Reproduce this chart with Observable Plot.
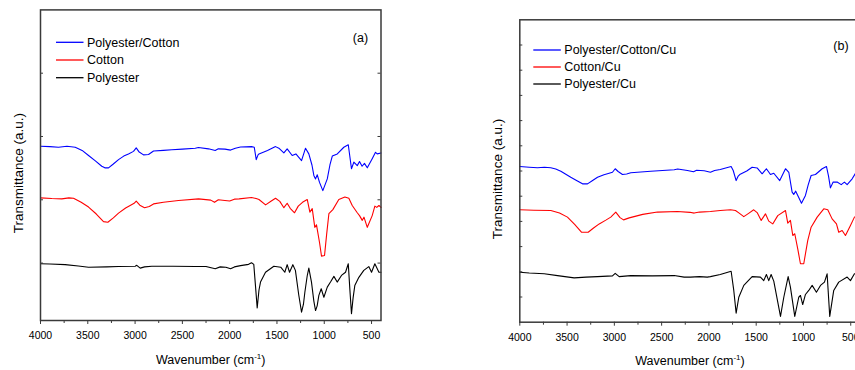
<!DOCTYPE html>
<html><head><meta charset="utf-8">
<script src="https://cdn.jsdelivr.net/npm/d3@7"></script>
<script src="https://cdn.jsdelivr.net/npm/@observablehq/plot@0.6"></script>
<style>
html,body{margin:0;padding:0;overflow:hidden;background:#fff;width:855px;height:370px;}
#wrap{position:relative;width:855px;height:370px;overflow:hidden;}
#wrap svg{position:absolute;top:0;}
</style></head>
<body><div id="wrap"></div>
<script>
// ---------- data (wavenumber cm-1, transmittance a.u.) ----------
const xTicksMajor = [4000, 3500, 3000, 2500, 2000, 1500, 1000, 500];
const xTicksMinor = [3750, 3250, 2750, 2250, 1750, 1250, 750];
const yTicksA = [20, 40, 60, 80];
const yTicksB = [1,2,3,4,5,6,7,8,9,10,11];

const seriesNamesA = ["Polyester/Cotton", "Cotton", "Polyester"];
const seriesNamesB = ["Polyester/Cotton/Cu", "Cotton/Cu", "Polyester/Cu"];
const seriesColors = ["#0000ff", "#ff0000", "#000000"];
const panelTags = ["(a)", "(b)"];
const xLabel = "Wavenumber (cm-1)";
const yLabel = "Transmittance (a.u.)";

const polyCottonA = [[4000,56.9],[3900,56.8],[3810,56.6],[3720,56.9],[3633,56.6],[3560,55.6],[3492,54.0],[3420,52.3],[3352,50.6],[3320,50.1],[3281,50.1],[3230,51.3],[3175,52.7],[3120,53.8],[3070,54.5],[3017,55.3],[2988,56.4],[2960,55.2],[2911,54.2],[2858,54.3],[2805,55.4],[2700,55.6],[2612,55.8],[2500,56.0],[2364,56.3],[2330,56.5],[2224,56.1],[2153,55.6],[2120,56.1],[2050,56.0],[1990,55.7],[1940,56.3],[1885,56.7],[1769,56.8],[1740,56.6],[1719,52.7],[1700,54.2],[1690,54.5],[1600,55.6],[1515,56.8],[1480,56.3],[1427,54.8],[1392,56.1],[1339,54.0],[1300,54.5],[1240,52.4],[1198,56.3],[1163,54.5],[1130,51],[1110,47.7],[1092,46.6],[1074,47.9],[1050,45.5],[1015,42.9],[968,46.6],[940,51],[915,53.8],[862,54.5],[793,56.6],[746,57.4],[712,49.8],[687,51.9],[651,50.8],[627,52.1],[600,50.6],[575,51.5],[545,50.1],[493,53.0],[458,55.0],[440,54.5],[400,54.8]];
const cottonA = [[4000,40.6],[3880,40.4],[3775,40.3],[3700,40.6],[3651,40.5],[3570,39.2],[3492,37.7],[3410,35.5],[3334,33.1],[3288,32.9],[3230,34.3],[3175,35.8],[3100,37.4],[3052,38.2],[3010,38.9],[2988,39.6],[2950,38.3],[2900,37.5],[2850,37.9],[2805,38.7],[2700,39.2],[2541,39.8],[2329,40.3],[2200,39.9],[2160,39.2],[2120,40.0],[2050,39.8],[2000,39.6],[1950,40.2],[1900,40.3],[1769,40.7],[1720,40.4],[1690,40.1],[1620,38.4],[1560,39.6],[1515,40.5],[1470,39.5],[1427,37.5],[1392,38.9],[1360,37.3],[1314,35.9],[1275,38.0],[1230,39.2],[1180,40.1],[1152,36.1],[1127,37.2],[1100,31.3],[1082,32.1],[1050,26.5],[1029,22.2],[997,22.4],[975,29],[951,35.6],[909,36.9],[846,40.1],[782,40.9],[740,40.5],[704,38.2],[651,35.9],[627,35.0],[598,33.5],[580,34.5],[545,31.3],[493,35.0],[465,38.0],[445,37.6],[422,38.2],[400,37.6]];
const polyesterA = [[4000,19.8],[3900,19.7],[3739,19.5],[3600,19.1],[3492,18.7],[3300,18.8],[3175,18.9],[2999,19.0],[2982,19.3],[2946,18.4],[2900,18.8],[2823,19.0],[2600,19.0],[2364,18.9],[2250,18.9],[2153,18.2],[2100,18.8],[2040,18.7],[1990,18.2],[1950,18.8],[1885,19.2],[1800,19.6],[1769,20.1],[1745,19.6],[1725,12],[1709,5.8],[1690,11.5],[1674,14.0],[1621,17.1],[1533,19.0],[1460,18.7],[1417,17.1],[1392,19.5],[1367,17.1],[1332,19.5],[1305,17.7],[1270,10],[1240,4.5],[1220,7],[1205,10.8],[1180,16],[1163,18.4],[1135,14.0],[1110,8],[1092,5.0],[1075,6.5],[1057,9.8],[1032,11.9],[1004,9.2],[968,12.4],[934,14.0],[898,15.8],[863,14.0],[818,16.1],[775,17.1],[746,19.8],[730,12],[712,4.0],[695,9],[677,12.9],[634,15.5],[582,17.7],[529,18.9],[500,17.1],[465,19.8],[422,17.1],[400,17.1]];

const polyCottonCuB = [[4000,6.18],[3900,6.15],[3813,6.13],[3740,6.15],[3672,6.13],[3620,6.08],[3566,5.99],[3461,5.75],[3400,5.62],[3337,5.49],[3284,5.49],[3230,5.62],[3178,5.75],[3110,5.85],[3055,5.91],[3020,5.95],[2991,6.09],[2960,5.98],[2914,5.86],[2870,5.88],[2826,5.93],[2615,5.99],[2367,6.05],[2330,6.08],[2227,6.02],[2163,5.97],[2130,6.03],[2050,6.01],[1984,5.95],[1940,6.02],[1880,6.06],[1765,6.18],[1743,6.02],[1712,5.62],[1690,5.80],[1674,5.86],[1600,6.0],[1543,6.15],[1490,6.12],[1437,5.89],[1392,6.09],[1349,5.86],[1314,5.91],[1251,5.62],[1190,6.09],[1155,5.95],[1120,5.16],[1103,5.07],[1082,5.20],[1050,4.95],[1021,4.72],[979,5.03],[950,5.45],[919,5.82],[873,5.86],[802,6.09],[757,6.18],[735,5.8],[715,5.33],[686,5.56],[644,5.56],[601,5.46],[567,5.56],[538,5.46],[485,5.69],[450,5.91],[400,6.02]];
const cottonCuB = [[4000,4.46],[3850,4.44],[3672,4.43],[3580,4.33],[3496,4.17],[3420,3.88],[3348,3.57],[3277,3.57],[3220,3.74],[3160,3.90],[3090,4.05],[3038,4.17],[2985,4.37],[2940,4.15],[2903,4.06],[2843,4.14],[2700,4.28],[2544,4.37],[2332,4.39],[2200,4.36],[2156,4.33],[2100,4.37],[1984,4.39],[1880,4.43],[1772,4.46],[1719,4.43],[1680,4.33],[1631,4.19],[1580,4.32],[1526,4.46],[1490,4.35],[1447,4.04],[1402,4.30],[1367,4.01],[1325,3.90],[1272,4.23],[1190,4.43],[1166,3.93],[1138,4.04],[1113,3.44],[1092,3.51],[1060,2.9],[1032,2.32],[997,2.32],[955,3.24],[919,3.77],[855,4.17],[785,4.50],[743,4.46],[697,4.10],[651,3.90],[627,3.57],[591,3.64],[556,3.44],[503,3.84],[461,4.17],[400,4.27]];
const polyesterCuB = [[4000,1.98],[3900,1.95],[3742,1.92],[3601,1.85],[3425,1.76],[3300,1.79],[3178,1.81],[3020,1.84],[2991,1.94],[2949,1.81],[2826,1.85],[2600,1.84],[2367,1.85],[2262,1.79],[2195,1.79],[2100,1.81],[2018,1.79],[1984,1.81],[1880,1.89],[1765,2.02],[1737,1.26],[1712,0.36],[1684,0.99],[1631,1.46],[1543,1.81],[1455,1.79],[1420,1.65],[1392,1.89],[1367,1.65],[1342,1.89],[1314,1.63],[1243,0.23],[1208,0.99],[1162,1.81],[1138,1.39],[1092,0.23],[1050,0.99],[1032,1.06],[1008,0.70],[979,1.10],[944,1.26],[908,1.46],[863,1.19],[820,1.46],[778,1.59],[750,1.92],[722,0.23],[680,1.26],[627,1.59],[538,1.79],[503,1.65],[461,1.92],[400,1.93]];

// ---------- drawing ----------
const AX = "#3a3a3a";
const FONT = "'Liberation Sans', Arial, sans-serif";

function panel(opt) {
  const frameW = opt.width - opt.marginLeft - opt.marginRight;
  const marks = [];
  opt.series.forEach((s, i) => {
    marks.push(Plot.line(s, {x: d => d[0], y: d => d[1], stroke: seriesColors[i], strokeWidth: 1.1}));
  });
  marks.push(
    Plot.tickY(opt.yTicks, {y: d => d, stroke: AX, strokeWidth: 1, insetRight: frameW - 3}),
    Plot.tickY(opt.yTicks, {y: d => d, stroke: AX, strokeWidth: 1, insetLeft: frameW - 3}),
    Plot.axisX({ticks: xTicksMajor, tickSize: 4, tickPadding: 7, fontSize: 10.5, tickFormat: d => String(d), stroke: AX, strokeWidth: 1, fill: "#000", label: null}),
    Plot.axisX({ticks: xTicksMinor, tickSize: 3, tickFormat: () => "", stroke: AX, strokeWidth: 1, label: null}),
    Plot.frame({stroke: AX, strokeWidth: 1.5}),
    Plot.text([xLabel], {frameAnchor: "bottom", dy: 39, lineAnchor: "middle", textAnchor: "middle", fontSize: 12.5, fill: "#000"}),
    Plot.text([yLabel], {frameAnchor: "left", dx: opt.yLabelDx, dy: 8, rotate: -90, lineAnchor: "middle", textAnchor: "middle", fontSize: 13.5, fill: "#000"})
  );
  const svg = Plot.plot({
    width: opt.width, height: 370,
    marginLeft: opt.marginLeft, marginRight: opt.marginRight,
    marginTop: opt.marginTop, marginBottom: opt.marginBottom,
    x: {domain: [4000, 400]},
    y: {domain: opt.yDomain, axis: null},
    style: {fontFamily: FONT, fontSize: "10.5px", background: "transparent", color: "#000", overflow: "visible"},
    marks
  });
  svg.style.left = opt.left + "px";
  // superscript in x label
  d3.select(svg).selectAll("text").each(function() {
    if (this.textContent === xLabel) {
      const t = d3.select(this);
      t.text("Wavenumber (cm");
      t.append("tspan").attr("dy", "-5").attr("font-size", "8").text("-1");
      t.append("tspan").attr("dy", "5").text(")");
    }
  });
  // legend
  const g = d3.select(svg).append("g").attr("font-family", FONT).attr("font-size", 12.5).attr("text-anchor", "start");
  opt.names.forEach((name, i) => {
    const y = opt.legY[i];
    g.append("line").attr("x1", opt.legX).attr("x2", opt.legX + 27.5).attr("y1", y).attr("y2", y)
      .attr("stroke", seriesColors[i]).attr("stroke-width", 1.3);
    g.append("text").attr("x", opt.legX + 31).attr("y", y).attr("dy", "0.35em").attr("fill", "#000").text(name);
  });
  g.append("text").attr("x", opt.tagX).attr("y", opt.tagY).attr("dy", "0.35em")
    .attr("text-anchor", "middle").attr("fill", "#000").text(opt.tag);
  document.getElementById("wrap").appendChild(svg);
}

panel({
  left: 0, width: 400, marginLeft: 40, marginRight: 19.5, marginTop: 9.4, marginBottom: 50,
  yDomain: [1.86, 100], yTicks: yTicksA, yLabelDx: -22,
  series: [polyCottonA, cottonA, polyesterA], names: seriesNamesA,
  legX: 56, legY: [42.3, 60, 77.7], tag: panelTags[0], tagX: 360.5, tagY: 38
});
panel({
  left: 400, width: 461, marginLeft: 119.3, marginRight: 1.3, marginTop: 19.3, marginBottom: 48.3,
  yDomain: [0, 12], yTicks: yTicksB, yLabelDx: -22.5,
  series: [polyCottonCuB, cottonCuB, polyesterCuB], names: seriesNamesB,
  legX: 133.3, legY: [50, 67, 84], tag: panelTags[1], tagX: 441, tagY: 46
});
</script>
</body></html>
